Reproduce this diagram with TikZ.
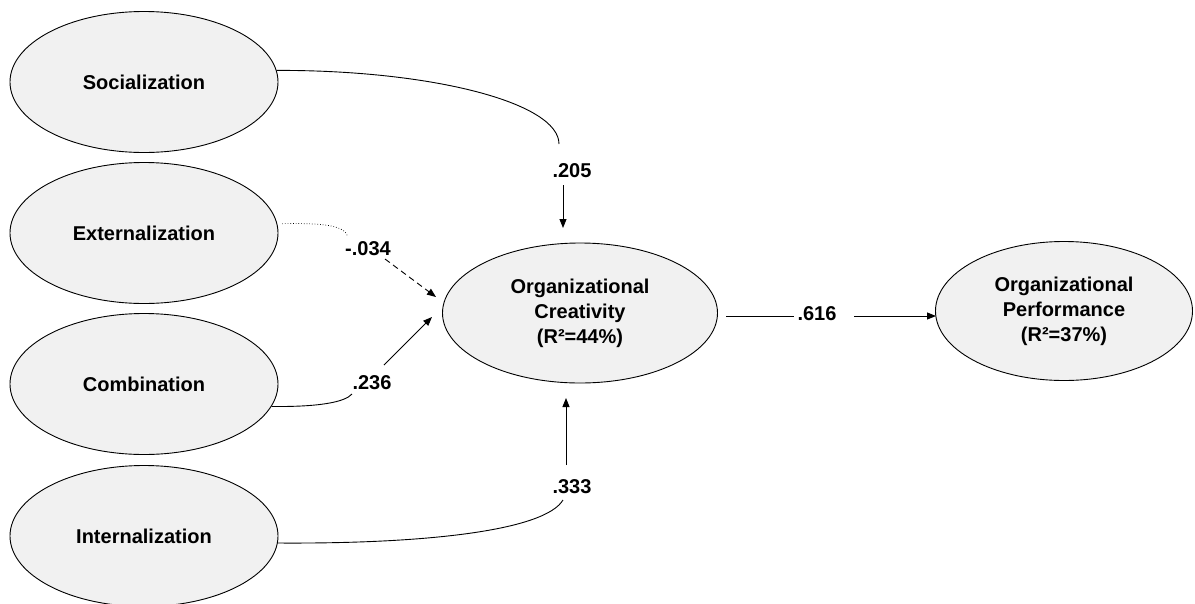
\documentclass[tikz,border=0pt]{standalone}
\usepackage{fontspec}
\setmainfont{Liberation Sans}
\usetikzlibrary{shapes.geometric,arrows.meta}
\definecolor{ellfill}{HTML}{F1F1F1}
\begin{document}
\begin{tikzpicture}[x=1pt,y=-1pt,
  lat/.style={ellipse,draw=black,line width=0.9pt,fill=ellfill,inner sep=0pt,
    font=\fontsize{20}{25}\selectfont\bfseries,align=center},
  lbl/.style={font=\fontsize{20}{24}\selectfont\bfseries,inner sep=0pt},
  conn/.style={line width=0.9pt},
  arr/.style={line width=0.9pt,-{Triangle[length=9pt,width=7pt]}}]
\useasboundingbox (0,0) rectangle (1195,603);

% latent variables
\node[lat,minimum width=268pt,minimum height=141pt] (soc) at (144,82) {Socialization};
\node[lat,minimum width=268pt,minimum height=141pt] (ext) at (144,233) {Externalization};
\node[lat,minimum width=268pt,minimum height=141pt] (com) at (144,384) {Combination};
\node[lat,minimum width=268pt,minimum height=141pt] (int) at (144,536) {Internalization};
\node[lat,minimum width=275pt,minimum height=140pt] (oc) at (580,313) {Organizational\\Creativity\\(R²=44\%)};
\node[lat,minimum width=257pt,minimum height=139pt] (op) at (1064,311) {Organizational\\Performance\\(R²=37\%)};

% path labels
\node[lbl] (l205) at (572,171) {.205};
\node[lbl] (l034) at (368,249) {-.034};
\node[lbl] (l236) at (372,383) {.236};
\node[lbl] (l333) at (572,487) {.333};
\node[lbl] (l616) at (817,314) {.616};

% curve ends and arrow starts
\coordinate (s1) at (559,144);
\coordinate (s2) at (563,185);
\coordinate (s3) at (563,228);
\coordinate (e1) at (348,237);
\coordinate (e2) at (385,259);
\coordinate (e3) at (436,297);
\coordinate (c1) at (352,394);
\coordinate (c2) at (384,365);
\coordinate (c3) at (432,317);
\coordinate (i1) at (563,500);
\coordinate (i2) at (566,465);
\coordinate (i3) at (566,398);
\coordinate (o1) at (726,316);
\coordinate (o2) at (794,316);
\coordinate (o3) at (854,316);
\coordinate (o4) at (936,316);

% Socialization
\draw[conn] (soc.5) .. controls (433,70) and (559,103) .. (s1);
\draw[arr] (s2) -- (s3);
% Externalization
\draw[line width=0.7pt,dotted] ([xshift=5pt]ext.4) .. controls (322,223) and (345,225) .. (e1);
\draw[arr,dash pattern=on 6pt off 4pt] (e2) -- (e3);
% Combination
\draw[conn] (com.-10) .. controls (320,407) and (345,402) .. (c1);
\draw[arr] (c2) -- (c3);
% Internalization
\draw[conn] (int.-3) .. controls (430,544) and (545,530) .. (i1);
\draw[arr] (i2) -- (i3);
% Creativity -> Performance
\draw[conn] (o1) -- (o2);
\draw[arr] (o3) -- (o4);
\end{tikzpicture}
\end{document}
